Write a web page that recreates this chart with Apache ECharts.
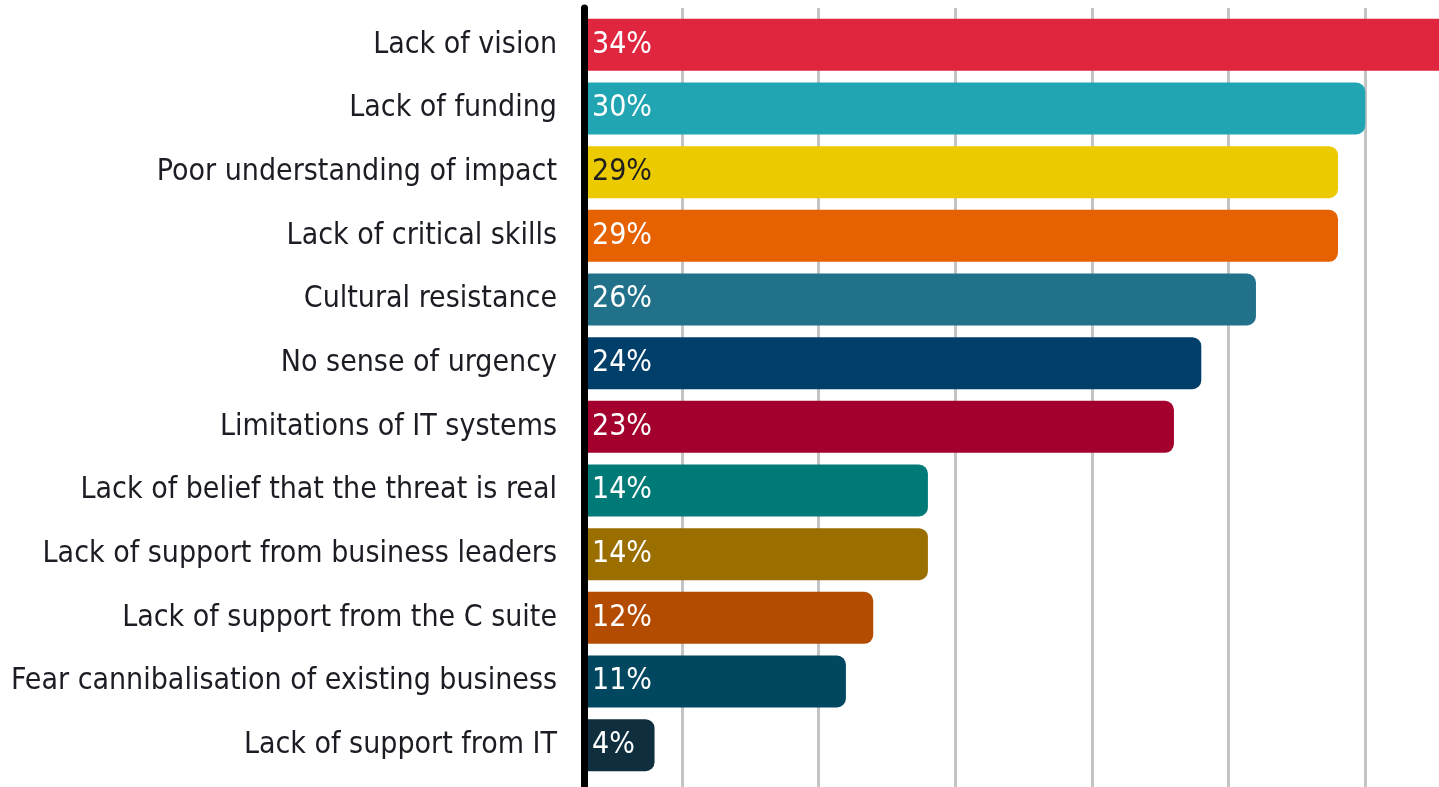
<!DOCTYPE html>
<html>
<head>
<meta charset="utf-8">
<script src="https://cdn.jsdelivr.net/npm/echarts@6/dist/echarts.min.js"></script>
<style>
  html, body { margin: 0; padding: 0; background: #ffffff; overflow: hidden; }
  #chart { width: 1502px; height: 787px; }
</style>
</head>
<body>
<div id="chart"></div>
<script>
// Barriers, share of respondents (%)
const categories = [
  'Lack of vision',
  'Lack of funding',
  'Poor understanding of impact',
  'Lack of critical skills',
  'Cultural resistance',
  'No sense of urgency',
  'Limitations of IT systems',
  'Lack of belief that the threat is real',
  'Lack of support from business leaders',
  'Lack of support from the C suite',
  'Fear cannibalisation of existing business',
  'Lack of support from IT'
];
const values = [34, 30, 29, 29, 26, 24, 23, 14, 14, 12, 11, 4];
const barColors = [
  '#e0263f', '#22a5b3', '#ebca00', '#e66100', '#22718a', '#003f6a',
  '#a3002e', '#007a77', '#9a6f00', '#b34c00', '#00475f', '#0f2f3f'
];
const labelColors = [
  '#ffffff', '#ffffff', '#1e1e1e', '#ffffff', '#ffffff', '#ffffff',
  '#ffffff', '#ffffff', '#ffffff', '#ffffff', '#ffffff', '#ffffff'
];

const FONT = '"Liberation Sans Narrow", "DejaVu Sans Condensed", "Noto Sans", sans-serif';

const chart = echarts.init(document.getElementById('chart'), null, { renderer: 'canvas' });

chart.setOption({
  animation: false,
  backgroundColor: '#ffffff',
  grid: [
    // bars
    { left: 584, right: 0, top: 13, bottom: 10, containLabel: false },
    // gridlines and the black baseline, spanning the full height
    { left: 545.4, right: 0, top: 8, bottom: 0, containLabel: false }
  ],
  xAxis: [
    {
      gridIndex: 0, type: 'value', min: 1.42, max: 35,
      axisLine: { show: false }, axisTick: { show: false },
      axisLabel: { show: false }, splitLine: { show: false }
    },
    {
      gridIndex: 1, type: 'value', min: 0, max: 35, interval: 5,
      axisLine: { show: false }, axisTick: { show: false },
      axisLabel: { show: false },
      splitLine: { show: true, showMinLine: false, showMaxLine: false,
                   lineStyle: { color: '#c4c4c4', width: 3 } }
    }
  ],
  yAxis: [
    {
      gridIndex: 0, type: 'category', data: categories, inverse: true,
      axisLine: { show: false }, axisTick: { show: false },
      axisLabel: { margin: 27, fontFamily: FONT, fontSize: 30, color: '#1c1c24' }
    },
    {
      gridIndex: 1, type: 'value', position: 'left', offset: -38.6, z: 5,
      axisLine: { show: true, lineStyle: { color: '#000000', width: 7 } },
      axisTick: { show: false }, axisLabel: { show: false }, splitLine: { show: false }
    }
  ],
  series: [{
    type: 'bar',
    xAxisIndex: 0, yAxisIndex: 0,
    barWidth: 52,
    clip: true,
    data: values.map((v, i) => ({
      value: v,
      itemStyle: { color: barColors[i], borderRadius: [0, 9, 9, 0] },
      label: { color: labelColors[i] }
    })),
    label: {
      show: true,
      position: 'insideLeft',
      distance: 8,
      fontFamily: FONT,
      fontSize: 30,
      formatter: p => p.value + '%'
    }
  }]
});
</script>
</body>
</html>
